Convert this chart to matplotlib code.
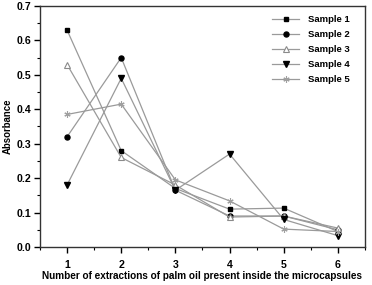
import matplotlib
matplotlib.use("Agg")
import matplotlib.pyplot as plt
from matplotlib.ticker import MultipleLocator, FormatStrFormatter

plt.rcParams["font.family"] = ["Liberation Sans", "DejaVu Sans"]
plt.rcParams["font.weight"] = "bold"

extractions = [1, 2, 3, 4, 5, 6]
sample1 = [0.63, 0.28, 0.17, 0.11, 0.113, 0.045]
sample2 = [0.32, 0.55, 0.165, 0.09, 0.09, 0.05]
sample3 = [0.53, 0.26, 0.18, 0.087, 0.09, 0.055]
sample4 = [0.18, 0.49, 0.165, 0.27, 0.08, 0.033]
sample5 = [0.385, 0.415, 0.195, 0.134, 0.052, 0.045]
labels = ["Sample 1", "Sample 2", "Sample 3", "Sample 4", "Sample 5"]

LINE = "#9a9a9a"
styles = [
    dict(marker="s", ms=3.2, mfc="black", mec="black"),
    dict(marker="o", ms=3.6, mfc="black", mec="black"),
    dict(marker="^", ms=4.2, mfc="white", mec="#8a8a8a", mew=0.8),
    dict(marker="v", ms=4.2, mfc="black", mec="black"),
    dict(marker=(6, 2, 0), ms=4.5, mfc="#a0a0a0", mec="#a0a0a0", mew=0.8),
]

fig = plt.figure(figsize=(3.72, 2.85), dpi=100)
ax = fig.add_axes([0.1075, 0.1333, 0.8735, 0.8457])

for ys, lab, st in zip([sample1, sample2, sample3, sample4, sample5], labels, styles):
    ax.plot(extractions, ys, color=LINE, lw=0.9, label=lab, **st)

ax.set_xlim(0.5, 6.5)
ax.set_ylim(0.0, 0.7)
ax.xaxis.set_major_locator(MultipleLocator(1))
ax.xaxis.set_minor_locator(MultipleLocator(0.5))
ax.yaxis.set_major_locator(MultipleLocator(0.1))
ax.yaxis.set_minor_locator(MultipleLocator(0.05))
ax.yaxis.set_major_formatter(FormatStrFormatter("%.1f"))
ax.tick_params(which="major", length=4, width=1, labelsize=7.6, pad=2)
ax.tick_params(which="minor", length=2.5, width=0.8)
ax.tick_params(axis="x", pad=5)
for s in ax.spines.values():
    s.set_linewidth(1)
    s.set_color("#333333")

ax.set_xlabel("Number of extractions of palm oil present inside the microcapsules",
              fontsize=7.2, fontweight="bold", labelpad=1)
ax.set_ylabel("Absorbance", fontsize=6.9, fontweight="bold", labelpad=3)

leg = ax.legend(loc="upper right", bbox_to_anchor=(0.975, 0.99), frameon=False,
                fontsize=6.8, handlelength=2.9, labelspacing=0.62,
                borderaxespad=0.35, handletextpad=0.9)

fig.savefig("out.png", dpi=100)
